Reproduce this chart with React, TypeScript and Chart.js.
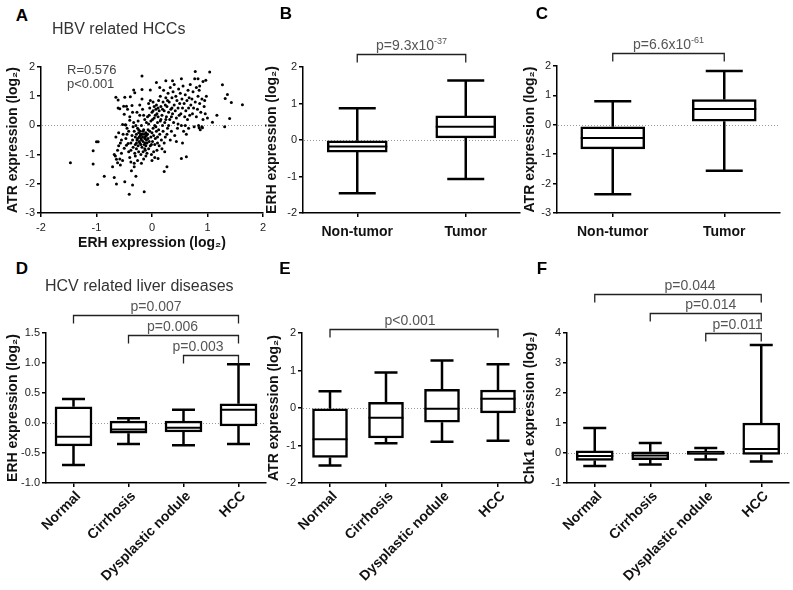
import React, { useEffect, useRef } from "react";
import { Chart, registerables } from "chart.js";

Chart.register(...registerables);

const FONT = "'Liberation Sans', Arial, Helvetica, sans-serif";

// ---------- Panel A: HBV related HCCs (ERH vs ATR, log2) ----------
const hbvPoints: [number, number][] = [
  [-1.47, -1.28], [-1.06, -0.87], [-1.06, -1.32], [-1.0, -0.56], [-0.97, -0.56], [-0.98, -2.02],
  [-0.86, -1.74], [-0.71, -1.42], [-0.68, -1.78], [-0.66, -1.05], [-0.64, -1.16], [-0.64, -2.01],
  [-0.62, -1.28], [-0.57, -1.36], [-0.49, -1.93], [-0.41, -2.36], [-0.35, -2.04], [-0.14, -2.27],
  [-0.29, -1.74], [-0.37, -1.55], [-0.32, -1.42], [-0.18, 1.23], [-0.18, 1.69], [-0.03, 1.21],
  [0.08, 1.47], [0.25, 1.53], [0.37, 1.53], [0.53, 1.6], [0.78, 1.85], [1.04, 1.83], [0.83, 1.6],
  [0.86, 1.35], [0.92, 1.5], [0.97, 1.55], [1.27, 1.39], [1.36, 1.06], [1.32, 0.92], [1.43, 0.78],
  [1.63, 0.71], [1.4, 0.24], [1.17, 0.35], [1.31, -0.05], [1.09, 0.11], [0.85, -0.08], [0.91, -0.08],
  [0.62, -1.07], [0.53, -1.13], [0.27, -1.42], [0.22, -1.58], [0.11, -1.13], [0.23, -0.9],
  [-0.65, 0.96], [-0.61, 0.87], [-0.61, 0.6], [-0.58, 0.57], [-0.49, 0.96], [-0.51, 0.66],
  [-0.39, 0.98], [-0.33, 1.21], [-0.31, 1.12], [-0.46, 0.66], [-0.5, 0.38], [-0.53, 0.03],
  [-0.47, 0.01], [-0.4, 0.18],
  [-0.68, -1.0], [-0.62, -0.85], [-0.6, -0.7], [-0.58, -1.15], [-0.55, -0.95], [-0.55, -0.5],
  [-0.52, -0.3], [-0.6, -0.25], [-0.5, -0.78], [-0.53, -1.2], [-0.57, -0.6], [-0.65, -0.4],
  [-0.48, 0.02], [-0.45, -0.1], [-0.47, -0.45], [-0.43, -0.62], [-0.42, -0.9], [-0.4, -1.1],
  [-0.38, -1.25], [-0.36, -0.35], [-0.35, -0.5], [-0.34, -0.75], [-0.33, 0.1], [-0.32, -0.2],
  [-0.31, -0.95], [-0.4, 0.3], [-0.44, 0.55], [-0.36, 0.68], [-0.3, -1.05], [-0.45, -0.3],
  [-0.38, -0.6], [-0.34, -0.05], [-0.3, -0.4], [-0.3, -0.65], [-0.42, -0.2], [-0.35, 0.45],
  [-0.32, -1.3], [-0.38, -0.85], [-0.46, -0.68],
  [-0.28, -0.3], [-0.27, -0.5], [-0.26, -0.1], [-0.25, -0.7], [-0.25, 0.15], [-0.24, -0.9],
  [-0.23, -0.4], [-0.22, -0.6], [-0.22, 0.35], [-0.21, -0.2], [-0.2, -1.0], [-0.2, -0.45],
  [-0.19, 0.0], [-0.18, -0.75], [-0.18, -0.3], [-0.17, 0.55], [-0.16, -0.55], [-0.15, -0.15],
  [-0.15, -1.15], [-0.14, -0.65], [-0.13, 0.2], [-0.12, -0.4], [-0.12, -0.85], [-0.11, -0.25],
  [-0.1, -0.5], [-0.1, 0.1], [-0.28, -0.8], [-0.27, 0.45], [-0.26, -1.2], [-0.24, -0.25],
  [-0.23, -0.55], [-0.21, -0.35], [-0.2, -0.65], [-0.19, -0.5], [-0.17, -0.4], [-0.16, -0.9],
  [-0.14, -0.3], [-0.13, -0.45], [-0.12, -0.6], [-0.11, -0.7], [-0.29, 0.0], [-0.22, 0.7],
  [-0.18, 0.9], [-0.15, 0.35], [-0.26, -0.45], [-0.24, -0.15], [-0.2, -0.3], [-0.16, -0.2],
  [-0.13, -0.8], [-0.11, -1.05], [-0.28, -0.6], [-0.19, -1.3], [-0.1, -0.35],
  [-0.09, -0.6], [-0.08, -0.3], [-0.08, 0.3], [-0.07, -0.45], [-0.06, -0.8], [-0.06, 0.05],
  [-0.05, -0.55], [-0.04, -0.2], [-0.04, 0.6], [-0.03, -0.7], [-0.02, -0.4], [-0.02, 0.15],
  [-0.01, -1.0], [0.0, -0.25], [0.0, 0.45], [0.01, -0.55], [0.02, -0.1], [0.02, 0.8],
  [0.03, -0.35], [0.04, 0.25], [0.05, -0.65], [0.05, 0.0], [0.06, -0.45], [0.07, 0.55],
  [0.08, -0.2], [0.08, 0.7], [0.09, -0.85], [0.1, 0.1], [0.1, -0.4], [-0.07, -0.15],
  [-0.05, 0.35], [-0.03, 0.85], [-0.01, -0.65], [0.01, 0.2], [0.03, -0.9], [0.04, 0.65],
  [0.06, 0.35], [0.07, -0.05], [0.09, 0.4], [0.0, -1.2], [-0.09, -0.95], [0.05, -1.1],
  [0.1, -0.6], [0.02, 0.5], [-0.06, 0.75],
  [0.11, 0.3], [0.12, -0.15], [0.12, 0.85], [0.13, 0.5], [0.14, -0.3], [0.15, 0.15], [0.15, 1.0],
  [0.16, 0.65], [0.17, -0.5], [0.18, 0.35], [0.19, 0.0], [0.2, 0.8], [0.2, -0.2], [0.21, 1.2],
  [0.22, 0.5], [0.23, 0.1], [0.24, -0.4], [0.25, 0.95], [0.26, 0.3], [0.27, 0.65], [0.28, -0.1],
  [0.29, 1.1], [0.3, 0.45], [0.13, -0.7], [0.16, 0.2], [0.18, -0.8], [0.22, -0.6], [0.25, 0.2],
  [0.28, 0.85], [0.11, 0.6], [0.14, 1.3], [0.19, 0.55], [0.24, 0.7], [0.27, -0.3], [0.3, 0.0],
  [0.31, 0.8], [0.32, 0.2], [0.33, 1.3], [0.34, 0.55], [0.35, -0.2], [0.36, 0.95], [0.37, 0.4],
  [0.38, 1.15], [0.39, 0.1], [0.4, 0.7], [0.41, -0.35], [0.42, 0.5], [0.43, 1.0], [0.44, 0.25],
  [0.45, 0.85], [0.46, -0.1], [0.47, 0.6], [0.48, 1.25], [0.49, 0.35], [0.5, 0.75], [0.33, -0.5],
  [0.36, 0.6], [0.4, 1.4], [0.44, -0.55], [0.47, 0.05], [0.35, 0.3],
  [0.51, 1.1], [0.52, 0.4], [0.53, 0.0], [0.54, 0.9], [0.55, 0.6], [0.56, 1.35], [0.57, -0.2],
  [0.58, 0.75], [0.59, 0.3], [0.6, 1.05], [0.61, 0.5], [0.62, -0.3], [0.63, 0.85], [0.64, 0.2],
  [0.65, 1.2], [0.66, 0.6], [0.67, 0.95], [0.68, 0.35], [0.69, 1.4], [0.7, 0.7], [0.55, -0.6],
  [0.6, 0.0], [0.66, -0.1],
  [0.72, 0.9], [0.73, 0.4], [0.74, 1.15], [0.75, 0.6], [0.76, -0.05], [0.78, 0.8], [0.8, 1.3],
  [0.8, 0.3], [0.82, 0.55], [0.83, 1.0], [0.84, 0.0], [0.86, 0.75], [0.87, -0.15], [0.88, 0.45],
  [0.9, 0.9], [0.92, 0.2], [0.94, 0.65], [0.96, 0.4], [0.98, 1.0], [1.0, 0.25], [0.77, 1.6],
  [0.85, 1.2], [0.9, -0.05], [0.95, 0.85],
];
const hbvStats = ["R=0.576", "p<0.001"];

// ---------- Panels B, C: HBV non-tumor vs tumor ----------
const tumorGroups = ["Non-tumor", "Tumor"];
const erhHbvMin = [-1.46, -1.07];
const erhHbvQ1 = [-0.33, 0.06];
const erhHbvMedian = [-0.18, 0.36];
const erhHbvQ3 = [-0.02, 0.66];
const erhHbvMax = [0.87, 1.63];

const atrHbvMin = [-2.36, -1.56];
const atrHbvQ1 = [-0.82, 0.12];
const atrHbvMedian = [-0.45, 0.54];
const atrHbvQ3 = [-0.07, 0.86];
const atrHbvMax = [0.8, 1.83];

// ---------- Panels D, E, F: HCV related liver diseases ----------
const hcvGroups = ["Normal", "Cirrhosis", "Dysplastic nodule", "HCC"];
const erhHcvMin = [-0.7, -0.35, -0.37, -0.35];
const erhHcvQ1 = [-0.38, -0.17, -0.15, -0.05];
const erhHcvMedian = [-0.23, -0.11, -0.08, 0.22];
const erhHcvQ3 = [0.27, 0.03, 0.03, 0.32];
const erhHcvMax = [0.4, 0.08, 0.22, 0.98];

const atrHcvMin = [-1.53, -0.94, -0.9, -0.87];
const atrHcvQ1 = [-1.32, -0.8, -0.38, -0.13];
const atrHcvMedian = [-0.83, -0.26, -0.02, 0.25];
const atrHcvQ3 = [-0.02, 0.15, 0.5, 0.48];
const atrHcvMax = [0.45, 0.95, 1.27, 1.17];

const chk1HcvMin = [-0.43, -0.38, -0.22, -0.28];
const chk1HcvQ1 = [-0.25, -0.22, -0.05, -0.05];
const chk1HcvMedian = [-0.1, -0.08, -0.01, 0.13];
const chk1HcvQ3 = [0.07, 0.04, 0.06, 1.0];
const chk1HcvMax = [0.83, 0.33, 0.17, 3.6];

// significance brackets: from/to category index, level in data units, p text
const bracketsB = [{ from: 0, to: 1, level: 2.36, text: "p=9.3x10", sup: "-37", dx: 0 }];
const bracketsC = [{ from: 0, to: 1, level: 2.44, text: "p=6.6x10", sup: "-61", dx: 0 }];
const bracketsD = [
  { from: 0, to: 3, level: 1.8, text: "p=0.007", dx: 0 },
  { from: 1, to: 3, level: 1.467, text: "p=0.006", dx: -11 },
  { from: 2, to: 3, level: 1.133, text: "p=0.003", dx: -13 },
];
const bracketsE = [{ from: 0, to: 3, level: 2.1, text: "p<0.001", dx: -4 }];
const bracketsF = [
  { from: 0, to: 3, level: 5.3, text: "p=0.044", dx: 12 },
  { from: 1, to: 3, level: 4.67, text: "p=0.014", dx: 5 },
  { from: 2, to: 3, level: 4.0, text: "p=0.011", dx: 4 },
];

// ---------- plugins ----------
const zeroLinePlugin = {
  id: "zeroLine",
  beforeDatasetsDraw(chart: any) {
    const y = chart.scales.y;
    const area = chart.chartArea;
    const py = y.getPixelForValue(0);
    const ctx = chart.ctx;
    ctx.save();
    ctx.strokeStyle = "#9a9a9a";
    ctx.lineWidth = 1;
    ctx.setLineDash([1, 2]);
    ctx.beginPath();
    ctx.moveTo(area.left + 1, Math.round(py) + 0.5);
    ctx.lineTo(area.right, Math.round(py) + 0.5);
    ctx.stroke();
    ctx.restore();
  },
};

const whiskerPlugin = {
  id: "whiskers",
  afterDatasetsDraw(chart: any, _args: any, opts: any) {
    if (!opts || !opts.min) return;
    const ctx = chart.ctx;
    const xs = chart.scales.x;
    const ys = chart.scales.y;
    const bars = chart.getDatasetMeta(0).data;
    ctx.save();
    ctx.strokeStyle = "#000";
    ctx.lineCap = "butt";
    opts.min.forEach((mn: number, i: number) => {
      const cx = xs.getPixelForValue(i);
      const half = bars[i].width / 2;
      const cap = opts.capWidth / 2;
      const pMin = ys.getPixelForValue(mn);
      const pMax = ys.getPixelForValue(opts.max[i]);
      const pQ1 = ys.getPixelForValue(opts.q1[i]);
      const pQ3 = ys.getPixelForValue(opts.q3[i]);
      const pMed = ys.getPixelForValue(opts.median[i]);
      ctx.lineWidth = opts.lineWidth;
      ctx.beginPath();
      ctx.moveTo(cx, pQ3);
      ctx.lineTo(cx, pMax);
      ctx.moveTo(cx - cap, pMax);
      ctx.lineTo(cx + cap, pMax);
      ctx.moveTo(cx, pQ1);
      ctx.lineTo(cx, pMin);
      ctx.moveTo(cx - cap, pMin);
      ctx.lineTo(cx + cap, pMin);
      ctx.stroke();
      ctx.lineWidth = opts.medianWidth;
      ctx.beginPath();
      ctx.moveTo(cx - half, pMed);
      ctx.lineTo(cx + half, pMed);
      ctx.stroke();
    });
    ctx.restore();
  },
};

const bracketPlugin = {
  id: "brackets",
  afterDraw(chart: any, _args: any, opts: any) {
    if (!opts || !opts.items) return;
    const ctx = chart.ctx;
    const xs = chart.scales.x;
    const ys = chart.scales.y;
    ctx.save();
    opts.items.forEach((b: any) => {
      const x1 = xs.getPixelForValue(b.from);
      const x2 = xs.getPixelForValue(b.to);
      const py = Math.round(ys.getPixelForValue(b.level)) + 0.5;
      ctx.strokeStyle = "#222";
      ctx.lineWidth = 1.3;
      ctx.beginPath();
      ctx.moveTo(x1, py + opts.drop);
      ctx.lineTo(x1, py);
      ctx.lineTo(x2, py);
      ctx.lineTo(x2, py + opts.drop);
      ctx.stroke();
      const mid = (x1 + x2) / 2 + (b.dx || 0);
      ctx.fillStyle = "#555";
      ctx.textBaseline = "alphabetic";
      ctx.font = `14px ${FONT}`;
      const w1 = ctx.measureText(b.text).width;
      let w2 = 0;
      if (b.sup) {
        ctx.font = `9px ${FONT}`;
        w2 = ctx.measureText(b.sup).width;
      }
      const start = mid - (w1 + w2) / 2;
      ctx.font = `14px ${FONT}`;
      ctx.textAlign = "left";
      ctx.fillText(b.text, start, py - 5);
      if (b.sup) {
        ctx.font = `9px ${FONT}`;
        ctx.fillText(b.sup, start + w1, py - 11);
      }
    });
    ctx.restore();
  },
};

// ---------- helpers ----------
function axisCommon() {
  return {
    grid: {
      display: true,
      drawOnChartArea: false,
      drawTicks: true,
      tickLength: 4,
      color: "#000",
      lineWidth: 1.5,
      offset: false,
    },
    border: { display: true, color: "#000", width: 1.5 },
    ticks: { color: "#222", font: { family: FONT, size: 11 }, padding: 2 },
  };
}

function yAxis(min: number, max: number, step: number, title: string, width: number, titlePad: number, decimals = 0) {
  const base = axisCommon();
  return {
    ...base,
    type: "linear",
    min,
    max,
    ticks: {
      ...base.ticks,
      stepSize: step,
      callback: (v: any) => Number(v).toFixed(decimals),
    },
    title: {
      display: true,
      text: title,
      color: "#111",
      font: { family: FONT, size: 14, weight: "bold" },
      padding: { top: titlePad, bottom: 0 },
    },
    afterFit: (s: any) => {
      s.width = width;
    },
  };
}

function boxConfig(opts: {
  labels: string[];
  min: number[];
  q1: number[];
  median: number[];
  q3: number[];
  max: number[];
  ymin: number;
  ymax: number;
  step: number;
  decimals?: number;
  title: string;
  yWidth: number;
  titlePad: number;
  xHeight: number;
  padding: any;
  barThickness: number;
  capWidth: number;
  rotate: boolean;
  brackets: any[];
}) {
  const xBase = axisCommon();
  return {
    type: "bar",
    data: {
      labels: opts.labels,
      datasets: [
        {
          data: opts.q1.map((q, i) => [q, opts.q3[i]]),
          backgroundColor: "#fff",
          borderColor: "#000",
          borderWidth: 2.5,
          borderSkipped: false,
          barThickness: opts.barThickness,
        },
      ],
    },
    options: {
      animation: false,
      responsive: false,
      devicePixelRatio: 1,
      layout: { padding: opts.padding },
      plugins: {
        legend: { display: false },
        tooltip: { enabled: false },
        whiskers: {
          min: opts.min,
          q1: opts.q1,
          median: opts.median,
          q3: opts.q3,
          max: opts.max,
          capWidth: opts.capWidth,
          lineWidth: 2.5,
          medianWidth: 2,
        },
        brackets: { items: opts.brackets, drop: 8 },
      },
      scales: {
        x: {
          ...xBase,
          type: "category",
          offset: true,
          ticks: {
            color: "#111",
            font: { family: FONT, size: 14, weight: "bold" },
            padding: opts.rotate ? 1 : 7,
            labelOffset: opts.rotate ? 5 : 0,
            autoSkip: false,
            minRotation: opts.rotate ? 45 : 0,
            maxRotation: opts.rotate ? 45 : 0,
          },
          afterFit: (s: any) => {
            s.height = opts.xHeight;
          },
        },
        y: yAxis(opts.ymin, opts.ymax, opts.step, opts.title, opts.yWidth, opts.titlePad, opts.decimals || 0),
      },
    },
    plugins: [zeroLinePlugin, whiskerPlugin, bracketPlugin],
  };
}

function scatterConfig() {
  const xBase = axisCommon();
  return {
    type: "scatter",
    data: {
      datasets: [
        {
          data: hbvPoints.map(([x, y]) => ({ x, y })),
          pointRadius: 1.5,
          pointBackgroundColor: "#000",
          pointBorderWidth: 0,
        },
      ],
    },
    options: {
      animation: false,
      responsive: false,
      devicePixelRatio: 1,
      layout: { padding: { left: 0, top: 27, right: 7, bottom: 0 } },
      plugins: { legend: { display: false }, tooltip: { enabled: false } },
      scales: {
        x: {
          ...xBase,
          type: "linear",
          min: -2,
          max: 2,
          ticks: { ...xBase.ticks, stepSize: 1, padding: 4 },
          title: {
            display: true,
            text: "ERH expression (log₂)",
            color: "#111",
            font: { family: FONT, size: 14, weight: "bold" },
            padding: { top: 0, bottom: 3 },
          },
          afterFit: (s: any) => {
            s.height = 42;
          },
        },
        y: yAxis(-3, 2, 1, "ATR expression (log₂)", 41, 5),
      },
    },
    plugins: [zeroLinePlugin],
  };
}

function ChartCanvas({ left, top, width, height, make }: { left: number; top: number; width: number; height: number; make: () => any }) {
  const ref = useRef<HTMLCanvasElement>(null);
  useEffect(() => {
    if (!ref.current) return;
    const chart = new Chart(ref.current, make());
    return () => chart.destroy();
  }, []);
  return (
    <canvas
      ref={ref}
      width={width}
      height={height}
      style={{ position: "absolute", left, top, width, height, display: "block" }}
    />
  );
}

function Label({ x, y, text, size, bold, color, anchor }: { x: number; y: number; text: string; size: number; bold?: boolean; color?: string; anchor?: string }) {
  return (
    <div
      style={{
        position: "absolute",
        left: x,
        top: y,
        transform: anchor === "center" ? "translate(-50%, -50%)" : "translate(0, -50%)",
        fontFamily: FONT,
        fontSize: size,
        fontWeight: bold ? 700 : 400,
        color: color || "#000",
        whiteSpace: "nowrap",
        lineHeight: 1,
      }}
    >
      {text}
    </div>
  );
}

export default function App() {
  return (
    <div style={{ position: "absolute", left: 0, top: 0, width: 793, height: 590, background: "#fff", overflow: "hidden" }}>
      <ChartCanvas left={0} top={40} width={270} height={215} make={scatterConfig} />
      <ChartCanvas
        left={258}
        top={20}
        width={266}
        height={235}
        make={() =>
          boxConfig({
            labels: tumorGroups,
            min: erhHbvMin,
            q1: erhHbvQ1,
            median: erhHbvMedian,
            q3: erhHbvQ3,
            max: erhHbvMax,
            ymin: -2,
            ymax: 2,
            step: 1,
            title: "ERH expression (log₂)",
            yWidth: 45,
            titlePad: 6,
            xHeight: 42,
            padding: { left: 0, top: 47, right: 4, bottom: 0 },
            barThickness: 60,
            capWidth: 37,
            rotate: false,
            brackets: bracketsB,
          })
        }
      />
      <ChartCanvas
        left={515}
        top={20}
        width={278}
        height={235}
        make={() =>
          boxConfig({
            labels: tumorGroups,
            min: atrHbvMin,
            q1: atrHbvQ1,
            median: atrHbvMedian,
            q3: atrHbvQ3,
            max: atrHbvMax,
            ymin: -3,
            ymax: 2,
            step: 1,
            title: "ATR expression (log₂)",
            yWidth: 42,
            titlePad: 7,
            xHeight: 42,
            padding: { left: 0, top: 46, right: 13, bottom: 0 },
            barThickness: 64,
            capWidth: 37,
            rotate: false,
            brackets: bracketsC,
          })
        }
      />
      <ChartCanvas
        left={0}
        top={290}
        width={270}
        height={300}
        make={() =>
          boxConfig({
            labels: hcvGroups,
            min: erhHcvMin,
            q1: erhHcvQ1,
            median: erhHcvMedian,
            q3: erhHcvQ3,
            max: erhHcvMax,
            ymin: -1,
            ymax: 1.5,
            step: 0.5,
            decimals: 1,
            title: "ERH expression (log₂)",
            yWidth: 46,
            titlePad: 5,
            xHeight: 107,
            padding: { left: 0, top: 43, right: 4, bottom: 0 },
            barThickness: 37,
            capWidth: 23,
            rotate: true,
            brackets: bracketsD,
          })
        }
      />
      <ChartCanvas
        left={258}
        top={290}
        width={270}
        height={300}
        make={() =>
          boxConfig({
            labels: hcvGroups,
            min: atrHcvMin,
            q1: atrHcvQ1,
            median: atrHcvMedian,
            q3: atrHcvQ3,
            max: atrHcvMax,
            ymin: -2,
            ymax: 2,
            step: 1,
            title: "ATR expression (log₂)",
            yWidth: 44,
            titlePad: 8,
            xHeight: 107,
            padding: { left: 0, top: 43, right: 2, bottom: 0 },
            barThickness: 35,
            capWidth: 23,
            rotate: true,
            brackets: bracketsE,
          })
        }
      />
      <ChartCanvas
        left={520}
        top={270}
        width={273}
        height={320}
        make={() =>
          boxConfig({
            labels: hcvGroups,
            min: chk1HcvMin,
            q1: chk1HcvQ1,
            median: chk1HcvMedian,
            q3: chk1HcvQ3,
            max: chk1HcvMax,
            ymin: -1,
            ymax: 4,
            step: 1,
            title: "Chk1 expression (log₂)",
            yWidth: 47,
            titlePad: 2,
            xHeight: 107,
            padding: { left: 0, top: 63, right: 4, bottom: 0 },
            barThickness: 37,
            capWidth: 23,
            rotate: true,
            brackets: bracketsF,
          })
        }
      />

      <Label x={22} y={15} text="A" size={17} bold anchor="center" />
      <Label x={286} y={13} text="B" size={17} bold anchor="center" />
      <Label x={542} y={13} text="C" size={17} bold anchor="center" />
      <Label x={22} y={268} text="D" size={17} bold anchor="center" />
      <Label x={285} y={268} text="E" size={17} bold anchor="center" />
      <Label x={542} y={268} text="F" size={17} bold anchor="center" />
      <Label x={52} y={29} text="HBV related HCCs" size={16} color="#333" />
      <Label x={45} y={286} text="HCV related liver diseases" size={16} color="#333" />
      <Label x={67} y={69} text={hbvStats[0]} size={13} color="#444" />
      <Label x={67} y={83} text={hbvStats[1]} size={13} color="#444" />
    </div>
  );
}
